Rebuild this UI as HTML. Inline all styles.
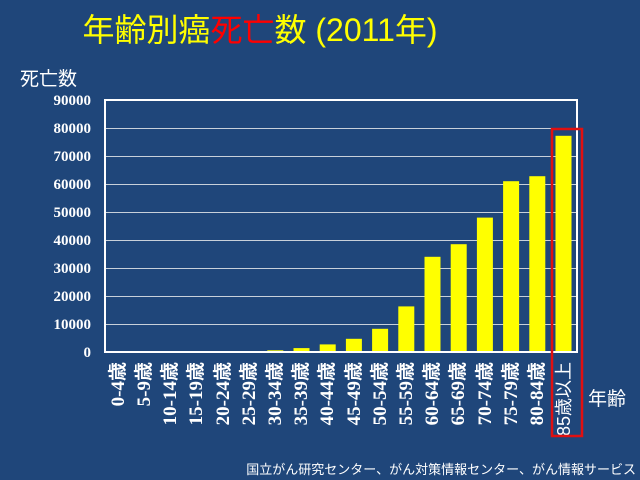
<!DOCTYPE html><html><head><meta charset="utf-8"><style>body{margin:0;background:#1f467a}svg{display:block}</style></head><body>
<svg width="640" height="480" xmlns="http://www.w3.org/2000/svg">
<rect width="640" height="480" fill="#1f467a"/>
<text x="260" y="41" text-anchor="middle" font-family="Liberation Sans, Noto Sans CJK JP, sans-serif" font-size="32" fill="#ffff00">年齢別癌<tspan fill="#ff0000">死亡</tspan>数 (2011年)</text>
<text x="20" y="85" font-family="Liberation Sans, Noto Sans CJK JP, sans-serif" font-size="19" fill="#fff">死亡数</text>
<g stroke="#c8d0da" stroke-width="1">
<line x1="105" x2="577" y1="128.5" y2="128.5"/><line x1="105" x2="577" y1="156.5" y2="156.5"/><line x1="105" x2="577" y1="184.5" y2="184.5"/><line x1="105" x2="577" y1="212.5" y2="212.5"/><line x1="105" x2="577" y1="240.5" y2="240.5"/><line x1="105" x2="577" y1="268.5" y2="268.5"/><line x1="105" x2="577" y1="296.5" y2="296.5"/><line x1="105" x2="577" y1="324.5" y2="324.5"/>
</g>
<g fill="#ffff00">
<rect x="241.1" y="351.2" width="16" height="0.8"/><rect x="267.3" y="350.3" width="16" height="1.7"/><rect x="293.5" y="348.1" width="16" height="3.9"/><rect x="319.7" y="344.4" width="16" height="7.6"/><rect x="345.9" y="338.8" width="16" height="13.2"/><rect x="372.1" y="328.8" width="16" height="23.2"/><rect x="398.3" y="306.4" width="16" height="45.6"/><rect x="424.5" y="256.8" width="16" height="95.2"/><rect x="450.7" y="244.2" width="16" height="107.8"/><rect x="476.9" y="217.6" width="16" height="134.4"/><rect x="503.1" y="181.2" width="16" height="170.8"/><rect x="529.3" y="176.2" width="16" height="175.8"/><rect x="555.5" y="135.8" width="16" height="216.2"/>
</g>
<rect x="105" y="100" width="472" height="252" fill="none" stroke="#fff" stroke-width="2"/>
<g font-family="Liberation Serif, serif" font-weight="bold" font-size="15" fill="#fff" text-anchor="end">
<text x="91" y="105">90000</text><text x="91" y="133">80000</text><text x="91" y="161">70000</text><text x="91" y="189">60000</text><text x="91" y="217">50000</text><text x="91" y="245">40000</text><text x="91" y="273">30000</text><text x="91" y="301">20000</text><text x="91" y="329">10000</text><text x="91" y="357">0</text>
</g>
<g font-family="Liberation Serif, Noto Sans CJK JP, serif" font-weight="bold" font-size="19" fill="#fff" text-anchor="end">
<text transform="translate(124,362) rotate(-90)">0-4歳</text>
<text transform="translate(150,362) rotate(-90)">5-9歳</text>
<text transform="translate(176,362) rotate(-90)">10-14歳</text>
<text transform="translate(202,362) rotate(-90)">15-19歳</text>
<text transform="translate(229,362) rotate(-90)">20-24歳</text>
<text transform="translate(255,362) rotate(-90)">25-29歳</text>
<text transform="translate(281,362) rotate(-90)">30-34歳</text>
<text transform="translate(307,362) rotate(-90)">35-39歳</text>
<text transform="translate(333,362) rotate(-90)">40-44歳</text>
<text transform="translate(360,362) rotate(-90)">45-49歳</text>
<text transform="translate(386,362) rotate(-90)">50-54歳</text>
<text transform="translate(412,362) rotate(-90)">55-59歳</text>
<text transform="translate(438,362) rotate(-90)">60-64歳</text>
<text transform="translate(464,362) rotate(-90)">65-69歳</text>
<text transform="translate(491,362) rotate(-90)">70-74歳</text>
<text transform="translate(517,362) rotate(-90)">75-79歳</text>
<text transform="translate(543,362) rotate(-90)">80-84歳</text>
<text transform="translate(570,362) rotate(-90)" font-weight="normal" font-family="Liberation Sans, Noto Sans CJK JP, sans-serif" font-size="18">85歳以上</text>
</g>
<rect x="552" y="129" width="30" height="307" fill="none" stroke="#e01010" stroke-width="2.5"/>
<text x="588" y="405" font-family="Liberation Sans, Noto Sans CJK JP, sans-serif" font-size="19" fill="#fff">年齢</text>
<text x="636" y="474" text-anchor="end" font-family="Liberation Sans, Noto Sans CJK JP, sans-serif" font-size="13" fill="#fff">国立がん研究センター、がん対策情報センター、がん情報サービス</text>
</svg></body></html>
